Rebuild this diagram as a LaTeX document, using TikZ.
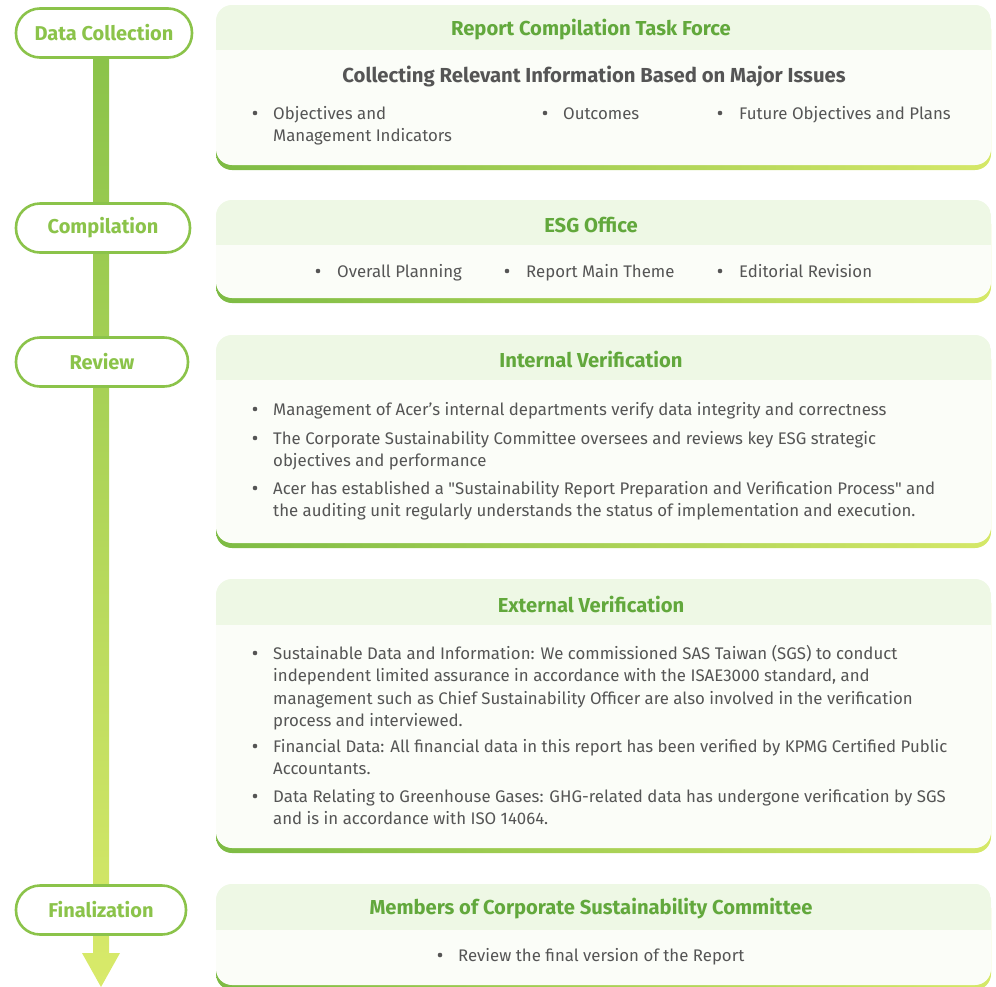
\documentclass[tikz,border=0pt]{standalone}
\usepackage{fontspec}
\setmainfont{Fira Sans}
\usetikzlibrary{calc}
\definecolor{pillgreen}{HTML}{8BC34A}
\definecolor{titlegreen}{HTML}{62A83C}
\definecolor{textgray}{HTML}{555555}
\definecolor{headfill}{HTML}{EEF8E5}
\definecolor{bodyfill}{HTML}{FBFDF8}
\definecolor{gradL}{HTML}{7DBB44}
\definecolor{gradR}{HTML}{D5E868}
\definecolor{barTop}{HTML}{8BC34A}
\definecolor{barBot}{HTML}{D9EA6A}
\newcommand{\mypanel}[4]{%
  \shade[left color=gradL, right color=gradR, rounded corners=16] (216,#1+8) rectangle (991,#2);
  \fill[bodyfill, rounded corners=16] (216,#1) rectangle (991,#2-5);
  \begin{scope}
    \clip[rounded corners=16] (216,#1) rectangle (991,#2-5);
    \fill[headfill] (216,#1) rectangle (991,#3);
  \end{scope}
  \node[paneltitle] (#4) at (591,{(#1+#3)/2+2}) {};
}
\begin{document}
\begin{tikzpicture}[x=1pt,y=-1pt,
  pill/.style={draw=pillgreen, line width=2.6pt, fill=white, rounded corners=24pt,
    minimum height=49pt, inner sep=0, text=pillgreen, font=\fontsize{20}{23}\selectfont\bfseries},
  paneltitle/.style={inner sep=0, text=titlegreen, font=\fontsize{20.2}{23}\selectfont\bfseries},
  subtitle/.style={inner sep=0, text=textgray, font=\fontsize{20.3}{23}\selectfont\bfseries},
  body/.style={inner sep=0, anchor=base west, align=left, text=textgray, font=\fontsize{16.8}{22.5}\selectfont},
  dot/.style={fill=textgray}]
\useasboundingbox (0,0) rectangle (996,986);

% ---- timeline bar with arrowhead
\coordinate (tip) at (101,987);
\shade[top color=barTop, bottom color=barBot]
  (93,58) -- (109,58) -- (109,953) -- (120,953) -- (tip) -- (82,953) -- (93,953) -- cycle;

% ---- stage pills
\node[pill, minimum width=176pt] (dc) at (104,33) {Data Collection};
\node[pill, minimum width=174pt] (comp) at (103,228) {Compilation};
\node[pill, minimum width=172pt] (rev) at (102,362) {Review};
\node[pill, minimum width=170pt] (fin) at (101,910) {Finalization};

% ---- panel 1
\mypanel{5}{170}{50}{p1}
\node[paneltitle] at (p1) {Report Compilation Task Force};
\node[subtitle] (p1s) at (594,77) {Collecting Relevant Information Based on Major Issues};
\fill[dot] (255,113) circle (2.3pt);
\node[body] (p1a) at (273,141.5) {Objectives and\\Management Indicators};
\fill[dot] (545,113) circle (2.3pt);
\node[body] (p1b) at (563,119) {Outcomes};
\fill[dot] (720,113) circle (2.3pt);
\node[body] (p1c) at (739,119) {Future Objectives and Plans};

% ---- panel 2
\mypanel{200}{303}{245}{p2}
\node[paneltitle] at (p2) {ESG Office};
\fill[dot] (318,271) circle (2.3pt);
\node[body] (p2a) at (337,277) {Overall Planning};
\fill[dot] (507,271) circle (2.3pt);
\node[body] (p2b) at (526,277) {Report Main Theme};
\fill[dot] (720,271) circle (2.3pt);
\node[body] (p2c) at (739,277) {Editorial Revision};

% ---- panel 3
\mypanel{335}{548}{380}{p3}
\node[paneltitle] at (p3) {Internal Verification};
\fill[dot] (255,409) circle (2.3pt);
\node[body] (p3a) at (273,415) {Management of Acer’s internal departments verify data integrity and correctness};
\fill[dot] (255,438) circle (2.3pt);
\node[body] (p3b) at (273,466.5) {The Corporate Sustainability Committee oversees and reviews key ESG strategic\\objectives and performance};
\fill[dot] (255,488) circle (2.3pt);
\node[body] (p3c) at (273,516.5) {Acer has established a \textquotedbl Sustainability Report Preparation and Verification Process\textquotedbl{} and\\the auditing unit regularly understands the status of implementation and execution.};

% ---- panel 4
\mypanel{579}{853}{625}{p4}
\node[paneltitle] at (p4) {External Verification};
\fill[dot] (255,653) circle (2.3pt);
\node[body] (p4a) at (273,726.5) {Sustainable Data and Information: We commissioned SAS Taiwan (SGS) to conduct\\independent limited assurance in accordance with the ISAE3000 standard, and\\management such as Chief Sustainability Officer are also involved in the verification\\process and interviewed.};
\fill[dot] (255,746) circle (2.3pt);
\node[body] (p4b) at (273,774.5) {Financial Data: All financial data in this report has been verified by KPMG Certified Public\\Accountants.};
\fill[dot] (255,796) circle (2.3pt);
\node[body] (p4c) at (273,824.5) {Data Relating to Greenhouse Gases: GHG-related data has undergone verification by SGS\\and is in accordance with ISO 14064.};

% ---- panel 5
\mypanel{884}{990}{930}{p5}
\node[paneltitle] at (p5) {Members of Corporate Sustainability Committee};
\fill[dot] (440,955) circle (2.3pt);
\node[body] (p5a) at (458,961) {Review the final version of the Report};
\end{tikzpicture}
\end{document}
